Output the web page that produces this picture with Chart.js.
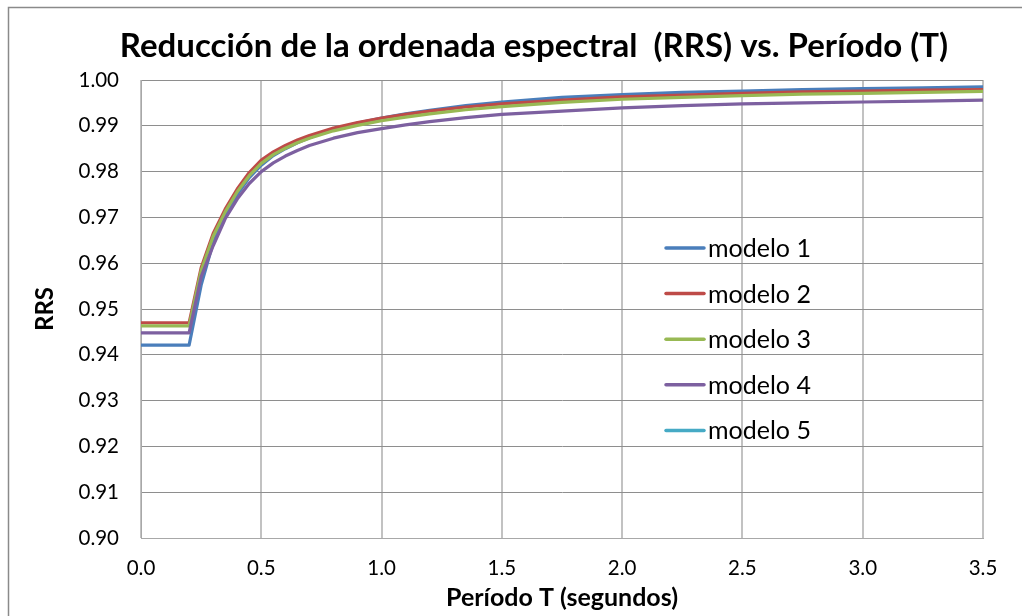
<!DOCTYPE html>
<html lang="es">
<head>
<meta charset="utf-8">
<title>Reducción de la ordenada espectral (RRS) vs. Período (T)</title>
<script src="https://cdn.jsdelivr.net/npm/chart.js@4.4.1/dist/chart.umd.min.js"></script>
<style>
  html, body { margin: 0; padding: 0; background: #ffffff; }
  #wrap { position: relative; width: 1022px; height: 616px; }
</style>
</head>
<body>
<div id="wrap"><canvas id="grafico" width="1022" height="616"></canvas></div>
<script>
// Período T (s)
const periodos = [0, 0.2, 0.25, 0.3, 0.35, 0.4, 0.45, 0.5, 0.55, 0.6, 0.65, 0.7, 0.8, 0.9,
                  1.0, 1.1, 1.2, 1.35, 1.5, 1.75, 2.0, 2.25, 2.5, 2.75, 3.0, 3.25, 3.5];

// RRS por modelo
const modelo1 = [0.9421, 0.9421, 0.9552, 0.9645, 0.9704, 0.9750, 0.9787, 0.9814, 0.9835, 0.9850, 0.9863, 0.9874, 0.9892, 0.9906,
                 0.9917, 0.9926, 0.9934, 0.9944, 0.9952, 0.9962, 0.9968, 0.9973, 0.9976, 0.9979, 0.9981, 0.9983, 0.9985];
const modelo2 = [0.9470, 0.9470, 0.9590, 0.9665, 0.9718, 0.9762, 0.9798, 0.9825, 0.9843, 0.9857, 0.9869, 0.9879, 0.9895, 0.9907,
                 0.9917, 0.9925, 0.9932, 0.9941, 0.9948, 0.9956, 0.9963, 0.9967, 0.9971, 0.9974, 0.9976, 0.9978, 0.9979];
const modelo3 = [0.9463, 0.9463, 0.9584, 0.9659, 0.9712, 0.9756, 0.9791, 0.9818, 0.9837, 0.9851, 0.9863, 0.9873, 0.9889, 0.9901,
                 0.9911, 0.9919, 0.9926, 0.9935, 0.9942, 0.9951, 0.9958, 0.9962, 0.9966, 0.9969, 0.9971, 0.9973, 0.9975];
const modelo4 = [0.9448, 0.9448, 0.9570, 0.9638, 0.9697, 0.9740, 0.9774, 0.9800, 0.9819, 0.9834, 0.9846, 0.9857, 0.9873, 0.9885,
                 0.9894, 0.9902, 0.9909, 0.9918, 0.9925, 0.9932, 0.9939, 0.9944, 0.9948, 0.9950, 0.9952, 0.9954, 0.9956];
const modelo5 = [];

const nombres = ['modelo 1', 'modelo 2', 'modelo 3', 'modelo 4', 'modelo 5'];
const colores = ['#4a7ebb', '#be4b48', '#98b954', '#7d60a0', '#46aac5'];

// Eje Y: 0.90 – 1.00 cada 0.01; eje X: 0.0 – 3.5 cada 0.5
const rangoY = [0.90, 1.00];
const pasoY = 0.01;
const rangoX = [0, 3.5];
const pasoX = 0.5;

const series = [modelo1, modelo2, modelo3, modelo4, modelo5];

const datasets = series.map((valores, i) => ({
  label: nombres[i],
  data: valores.map((v, k) => ({ x: periodos[k], y: v })),
  borderColor: colores[i],
  backgroundColor: colores[i],
  borderWidth: 3.2,
  pointRadius: 0,
  tension: 0,
  borderJoinStyle: 'round',
  borderCapStyle: 'round',
  order: series.length - 1 - i,
  yAxisID: 'y'
}));

// Fondo blanco y marco exterior del gráfico
const marco = {
  id: 'marco',
  beforeDraw(chart) {
    const ctx = chart.ctx;
    ctx.save();
    ctx.fillStyle = '#ffffff';
    ctx.fillRect(0, 0, chart.width, chart.height);
    ctx.strokeStyle = '#8a8a8a';
    ctx.lineWidth = 1.5;
    ctx.strokeRect(8.5, 7.5, chart.width + 40, chart.height + 40);
    ctx.restore();
  }
};

// Leyenda dentro del área de trazado
const leyenda = {
  id: 'leyendaInterior',
  afterDatasetsDraw(chart, args, opts) {
    const ctx = chart.ctx;
    ctx.save();
    ctx.font = opts.font;
    ctx.textBaseline = 'middle';
    ctx.textAlign = 'left';
    chart.data.datasets.forEach((ds, i) => {
      const y = opts.y + i * opts.fila;
      ctx.strokeStyle = ds.borderColor;
      ctx.lineWidth = 3.5;
      ctx.lineCap = 'round';
      ctx.beginPath();
      ctx.moveTo(opts.x, y);
      ctx.lineTo(opts.x + opts.muestra, y);
      ctx.stroke();
      ctx.fillStyle = '#000000';
      ctx.fillText(ds.label, opts.x + opts.muestra + 4, y + 1);
    });
    ctx.restore();
  }
};

new Chart(document.getElementById('grafico'), {
  type: 'line',
  data: { datasets },
  plugins: [marco, leyenda],
  options: {
    responsive: false,
    animation: false,
    events: [],
    layout: { padding: { left: 8, top: 7, right: -38, bottom: 0 } },
    plugins: {
      legend: { display: false },
      tooltip: { enabled: false },
      title: {
        display: true,
        text: 'Reducción de la ordenada espectral  (RRS) vs. Período (T)',
        color: '#000000',
        font: { family: 'Lato', size: 33, weight: 'bold', lineHeight: 1.2 },
        padding: { top: 20, bottom: 13.4 }
      },
      leyendaInterior: { x: 666, y: 248, fila: 45.6, muestra: 38, font: '25px Lato' }
    },
    scales: {
      x: {
        type: 'linear',
        min: rangoX[0],
        max: rangoX[1],
        ticks: {
          stepSize: pasoX,
          color: '#000000',
          padding: 18,
          font: { family: 'Lato', size: 20.5 },
          callback: v => Number(v).toFixed(1)
        },
        grid: { color: '#c2c2c2', lineWidth: 2, drawTicks: false },
        border: { display: true, color: '#a8a8a8', width: 1 },
        title: {
          display: true,
          text: 'Período T (segundos)',
          color: '#000000',
          font: { family: 'Lato', size: 25, weight: 'bold', lineHeight: 1.2 },
          padding: { top: 0, bottom: 3 }
        },
        afterFit(scale) { scale.height = 78; }
      },
      y: {
        type: 'linear',
        position: 'left',
        min: rangoY[0],
        max: rangoY[1],
        ticks: {
          stepSize: pasoY,
          color: '#000000',
          padding: 22,
          font: { family: 'Lato', size: 20.5 },
          callback: v => Number(v).toFixed(2)
        },
        grid: { color: '#8e8e8e', lineWidth: 1, drawTicks: false },
        border: { display: true, color: '#a8a8a8', width: 1 },
        title: {
          display: true,
          text: 'RRS',
          color: '#000000',
          font: { family: 'Lato', size: 24, weight: 'bold', lineHeight: 1.2 },
          padding: { top: 23, bottom: 0 }
        },
        afterFit(scale) { scale.width = 133; }
      },
      derecha: {
        type: 'linear',
        position: 'right',
        display: true,
        ticks: { display: false },
        grid: { display: false, drawTicks: false },
        border: { display: false },
        afterFit(scale) { scale.width = 77; }
      }
    }
  }
});
</script>
</body>
</html>
